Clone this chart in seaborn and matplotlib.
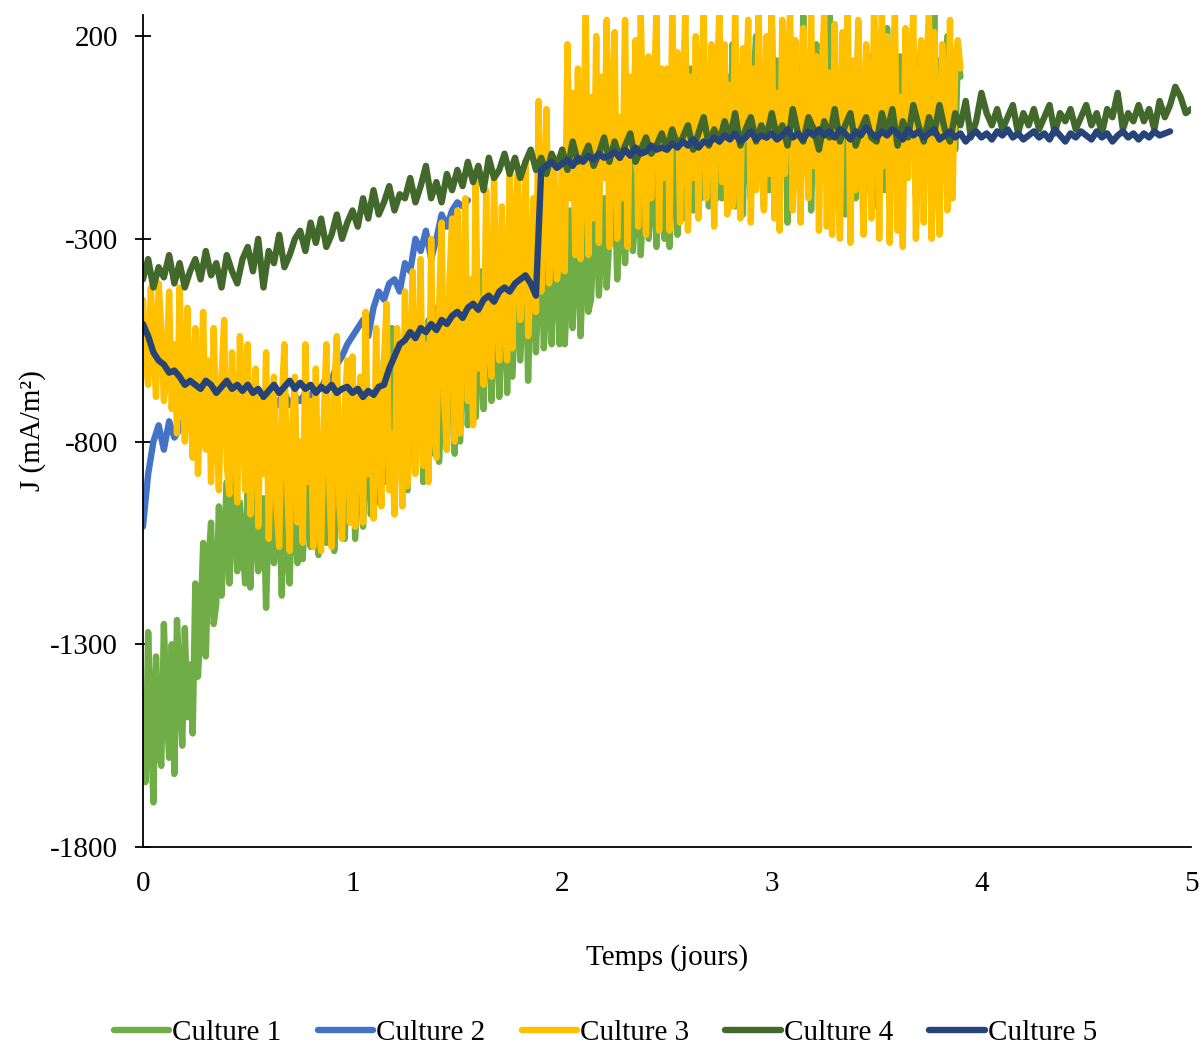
import numpy as np
import pandas as pd
import seaborn as sns
import matplotlib.pyplot as plt

# current density J (mA/m2); cultures 1 and 3 read every 0.0125 day,
# the others every 0.025 day
fine_step = 0.0125
step = 0.025

culture_1 = [
    -1420, -1640, -1270, -1500, -1690, -1330, -1560, -1600, -1250, -1450,
    -1580, -1300, -1620, -1240, -1400, -1550, -1260, -1480, -1350, -1520,
    -1150, -1380, -1250, -1050, -1330, -1100, -1000, -1250, -1200, -960,
    -1180, -1050, -900, -1150, -1000, -880, -1120, -950, -1050, -1150,
    -920, -1160, -1000, -880, -1120, -1050, -940, -1210, -980, -900,
    -1100, -1020, -950, -1180, -900, -1060, -1150, -930, -1000, -1100,
    -850, -1090, -950, -820, -1060, -900, -880, -1080, -960, -800,
    -1050, -900, -840, -1070, -950, -820, -1000, -1040, -870, -960,
    -780, -1040, -900, -760, -1010, -850, -700, -980, -800, -650,
    -950, -900, -600, -900, -750, -520, -880, -700, -600, -900,
    -560, -920, -700, -480, -860, -620, -540, -900, -750, -500,
    -830, -640, -470, -850, -700, -520, -820, -600, -480, -830,
    -450, -800, -600, -420, -760, -550, -400, -740, -600, -380,
    -720, -500, -360, -700, -550, -350, -690, -480, -400, -680,
    -340, -640, -480, -320, -600, -450, -300, -650, -420, -280,
    -580, -400, -260, -570, -450, -300, -560, -380, -260, -560,
    -260, -560, -400, -230, -520, -350, -250, -540, -380, -200,
    -480, -450, -300, -180, -440, -320, -200, -420, -300, -220,
    -150, -400, -250, -120, -360, -200, -100, -330, -240, -80,
    -340, -180, -60, -300, -200, -100, -320, -150, -50, -300,
    -20, -320, -150, 40, -290, -100, 80, -250, -50, 120,
    -230, -80, 60, -200, -120, 100, -220, 0, 120, -200,
    150, -200, 0, 100, -180, 180, -220, 50, 120, -240,
    150, -100, -200, 80, 200, -150, 0, -220, 120, -180,
    260, -230, 140, -170, 0, 120, -260, 160, -150, 60,
    100, -200, 250, -100, 150, -230, 40, 180, -160, 80,
    180, -160, 260, -200, 110, -180, 0, 160, -240, 130,
    -150, 80, -200, 220, -120, 100, -180, 60, 150, -220,
    190, -130, 120, -180, 220, -200, 170, -140, 0, 150,
    -170, 80, 200, -100, 130, -190, 60, 180, -150, 100,
    120, -120, 260, -160, 140, -100, 50, 200, -150, 100,
    -80, 150, 100,
]

culture_2 = [
    -1010, -880, -800, -760, -820, -750, -790, -770, -740, -760,
    -730, -760, -720, -750, -740, -710, -760, -730, -700, -740,
    -720, -700, -740, -710, -690, -720, -700, -680, -710, -690,
    -700, -680, -690, -660, -670, -640, -650, -610, -590, -560,
    -540, -520, -500, -540, -470, -430, -450, -410, -400, -430,
    -360, -380, -300, -330, -280, -350, -300, -240, -270, -230,
    -210, -220, -205,
]

culture_3 = [
    -450, -600, -660, -420, -560, -690, -410, -520, -700, -640,
    -430, -720, -560, -780, -420, -640, -800, -470, -700, -840,
    -520, -880, -700, -480, -820, -600, -900, -520, -760, -920,
    -640, -500, -860, -930, -580, -780, -950, -540, -700, -920,
    -560, -980, -760, -620, -1010, -700, -880, -580, -1040, -820,
    -640, -960, -1060, -700, -560, -900, -1070, -760, -640, -1000,
    -800, -1050, -560, -900, -700, -1060, -620, -980, -1070, -750,
    -560, -880, -1060, -680, -540, -960, -1040, -720, -600, -1000,
    -590, -1010, -760, -640, -1000, -480, -880, -700, -990, -520,
    -800, -960, -600, -460, -920, -780, -980, -520, -700, -960,
    -430, -910, -620, -380, -880, -700, -350, -860, -560, -900,
    -300, -760, -840, -480, -260, -700, -820, -400, -250, -800,
    -230, -780, -500, -200, -700, -400, -760, -160, -620, -450,
    -660, -180, -560, -640, -150, -480, -600, -220, -520, -600,
    -120, -570, -300, -140, -500, -380, -110, -540, -420, -200,
    -480, 40, -430, -250, 20, -410, -300, -120, -400, -350,
    -80, -380, 180, -200, 60, -340, 120, -350, -100, 260,
    -340, 50, -250, 200, -310, 100, -150, 240, -320, 0,
    210, -300, 0, -200, 240, -320, 100, -100, 190, -270,
    260, -60, -290, 150, -200, 60, 260, -280, 120, -150,
    120, -280, 260, -60, 160, -260, 40, 260, -280, 100,
    -150, 200, -250, 60, 260, -200, -20, 180, -270, 80,
    260, -160, 180, -240, 80, -220, 260, -100, -250, 170,
    0, 240, -260, 120, -180, 260, -60, -230, 200, -140,
    260, -250, 60, -280, 240, -140, 100, 260, -230, 190,
    -50, -260, 220, 30, -200, 260, -120, 150, -280, 80,
    260, -270, 110, -290, 230, -120, -300, 210, 0, 260,
    -310, 140, -180, 240, -60, -290, 180, 40, -250, 260,
    150, -300, 260, -120, 200, -310, 60, 260, -280, 50,
    -320, 220, -150, 100, 260, -300, -40, 190, -260, 120,
    260, -300, 210, -100, -290, 180, 60, -230, 240, -200,
    130, 190, 120,
]

culture_4 = [
    -400, -350, -420, -370, -395, -340, -410, -360, -420, -380,
    -350, -400, -330, -390, -360, -420, -340, -380, -410, -350,
    -320, -380, -300, -420, -330, -360, -290, -370, -340, -300,
    -280, -330, -260, -310, -250, -320, -290, -240, -300, -260,
    -230, -270, -200, -250, -180, -240, -210, -170, -230, -190,
    -200, -150, -210, -170, -120, -200, -160, -210, -140, -180,
    -130, -170, -110, -160, -120, -180, -100, -150, -130, -90,
    -140, -100, -150, -110, -80, -130, -100, -140, -90, -120,
    -80, -130, -60, -110, -100, -70, -120, -90, -50, -110,
    -60, -100, -70, -40, -110, -80, -50, -90, -70, -40,
    -80, -30, -70, -50, -20, -80, -40, 0, -70, -30,
    -60, -10, -50, 10, -70, -30, 0, -60, -20, -50,
    10, -50, -20, -70, 20, -40, -60, 0, -30, -80,
    -10, -50, 20, -60, -20, 10, -70, -30, 0, -50,
    -60, 10, -40, 20, -70, -10, -50, 30, -20, -60,
    0, -40, 30, -30, -60, 10, -20, 40, -50, -10,
    60, 10, -20, 20, -30, 0, 30, -40, 10, -20,
    20, -30, 0, 30, -40, 10, -10, 20, -30, 0,
    30, -20, 10, -40, 20, 0, 60, -30, 10, -10,
    30, -10, 20, -30, 40, 0, 30, 75, 50, 10,
    20,
]

culture_5 = [
    -510, -540, -580, -600, -610, -630, -625, -640, -660, -650,
    -660, -670, -650, -660, -680, -665, -650, -670, -660, -675,
    -660, -680, -670, -690, -675, -660, -680, -665, -650, -670,
    -655, -670, -660, -680, -665, -675, -660, -680, -670, -665,
    -680, -670, -690, -675, -685, -665, -660, -620, -590, -560,
    -550, -530, -545, -520, -530, -510, -525, -500, -510, -490,
    -480, -495, -470, -460, -475, -450, -440, -455, -430, -420,
    -430, -410, -400, -390, -410, -440, -130, -120, -110, -125,
    -115, -105, -120, -100, -110, -95, -105, -90, -100, -95,
    -85, -100, -80, -95, -75, -90, -85, -70, -80, -75,
    -80, -65, -75, -60, -70, -55, -75, -60, -65, -50,
    -60, -45, -55, -40, -60, -50, -35, -55, -45, -50,
    -40, -55, -45, -30, -50, -40, -55, -35, -45, -30,
    -45, -35, -50, -30, -40, -55, -35, -45, -25, -40,
    -50, -35, -45, -30, -40, -55, -30, -45, -35, -50,
    -40, -30, -55, -45, -35, -50, -40, -60, -45, -35,
    -50, -40, -55, -35, -45, -30, -50, -40, -55, -45,
    -35, -50, -40, -55, -30, -45, -60, -40, -50, -35,
    -45, -55, -35, -50, -40, -60, -45, -35, -50, -40,
    -55, -40, -50, -35, -45, -40, -35,
]

names = ["Culture 1", "Culture 2", "Culture 3", "Culture 4", "Culture 5"]
colors = ["#70AD47", "#4472C4", "#FFC000", "#43682B", "#264478"]
series = [culture_1, culture_2, culture_3, culture_4, culture_5]
steps = [fine_step, step, fine_step, step, step]

frames = []
for name, vals, dt in zip(names, series, steps):
    frames.append(pd.DataFrame({
        "t": np.arange(len(vals)) * dt,
        "J": vals,
        "culture": name,
    }))
df = pd.concat(frames, ignore_index=True)

sns.set_style("white")
plt.rcParams["font.family"] = ["Liberation Serif", "DejaVu Serif"]
plt.rcParams["axes.unicode_minus"] = False
for key in ["text.color", "axes.labelcolor", "xtick.color", "ytick.color"]:
    plt.rcParams[key] = "black"

fig = plt.figure(figsize=(12.01, 10.44), dpi=100)
ax = fig.add_axes([0.119, 0.1887, 0.8727, 0.7969])

sns.lineplot(data=df, x="t", y="J", hue="culture", hue_order=names,
             palette=colors, estimator=None, sort=False, linewidth=4.6,
             ax=ax, legend=False)

ax.set_xlim(0, 5)
ax.set_ylim(-1800, 252)
ax.set_xticks([0, 1, 2, 3, 4, 5])
ax.set_yticks([200, -300, -800, -1300, -1800])
for s in ["top", "right"]:
    ax.spines[s].set_visible(False)
for s in ["left", "bottom"]:
    ax.spines[s].set_color("black")
    ax.spines[s].set_linewidth(1.3)
ax.tick_params(axis="y", direction="inout", length=12, width=1.3,
               labelsize=21, pad=12, left=True)
ax.tick_params(axis="x", length=0, labelsize=21, pad=17)

ax.set_xlabel("Temps (jours)", fontsize=21, labelpad=34)
ax.set_ylabel("J (mA/m²)", fontsize=21, labelpad=3)

handles = [plt.Line2D([], [], color=c, lw=4.6) for c in colors]
fig.legend(handles, names, loc="center", bbox_to_anchor=(0.504, 0.011),
           ncol=5, frameon=False, fontsize=21, handlelength=1.9,
           handletextpad=0.1, columnspacing=1.25, borderaxespad=0)

fig.savefig("out.png", dpi=100)
